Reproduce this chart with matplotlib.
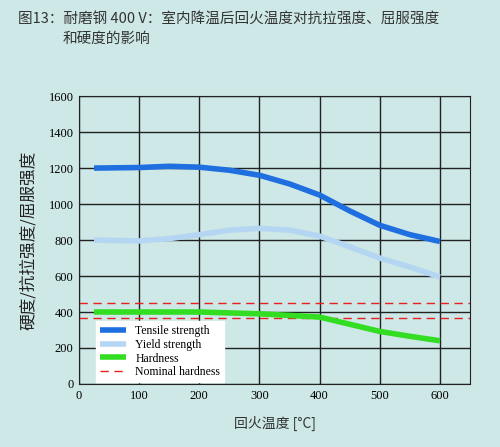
import matplotlib.pyplot as plt

plt.rcParams['font.family'] = ['Noto Sans CJK SC', 'DejaVu Sans']

BG = '#cde8e6'
temps = [25, 100, 150, 200, 250, 300, 350, 400, 450, 500, 550, 600]
tensile = [1200, 1203, 1210, 1205, 1188, 1160, 1112, 1050, 962, 882, 830, 792]
yield_ = [800, 795, 808, 830, 855, 865, 855, 822, 762, 700, 650, 595]
hard_t = [25, 100, 200, 300, 400, 450, 500, 550, 600]
hardness = [400, 400, 400, 390, 372, 332, 292, 265, 240]
nominal = [450, 365]

fig = plt.figure(figsize=(5.0, 4.47), dpi=100, facecolor=BG)
ax = fig.add_axes([0.158, 0.141, 0.782, 0.644], facecolor=BG)

ax.plot(temps, tensile, color='#1f6fe0', lw=4, label='Tensile strength', solid_capstyle='butt')
ax.plot(temps, yield_, color='#b5d6f2', lw=4, label='Yield strength', solid_capstyle='butt')
ax.plot(hard_t, hardness, color='#33dd22', lw=4, label='Hardness', solid_capstyle='butt', zorder=5)
for i, v in enumerate(nominal):
    ax.axhline(v, color='#e82020', lw=1, ls=(0, (6, 4)), label='Nominal hardness' if i == 0 else None)

ax.set_xlim(0, 650)
ax.set_ylim(0, 1600)
ax.set_xticks(range(0, 601, 100))
ax.set_yticks(range(0, 1601, 200))
ax.grid(color='#222222', lw=1)
ax.set_axisbelow(True)
ax.tick_params(length=0, labelsize=9, pad=4)
for lab in ax.get_xticklabels() + ax.get_yticklabels():
    lab.set_fontfamily('Liberation Serif')
for s in ax.spines.values():
    s.set_color('#222222')

ax.set_xlabel('回火温度 [°C]', fontsize=10, color='#333333', labelpad=10)
ax.set_ylabel('硬度/抗拉强度/屈服强度', fontsize=12, color='#222222', labelpad=8)

leg = ax.legend(loc='lower left', bbox_to_anchor=(0.035, -0.005), fancybox=False, framealpha=1,
                edgecolor='white', prop={'family': 'Liberation Serif', 'size': 8.5},
                borderaxespad=0.3, handlelength=2.2, labelspacing=0.15, borderpad=0.3)
leg.set_zorder(4)

fig.text(0.035, 0.955, '图13：耐磨钢 400 V：室内降温后回火温度对抗拉强度、屈服强度',
         fontsize=10.5, color='#333333', va='center')
fig.text(0.125, 0.912, '和硬度的影响', fontsize=10.5, color='#333333', va='center')

fig.savefig('out.png', dpi=100, facecolor=BG)
